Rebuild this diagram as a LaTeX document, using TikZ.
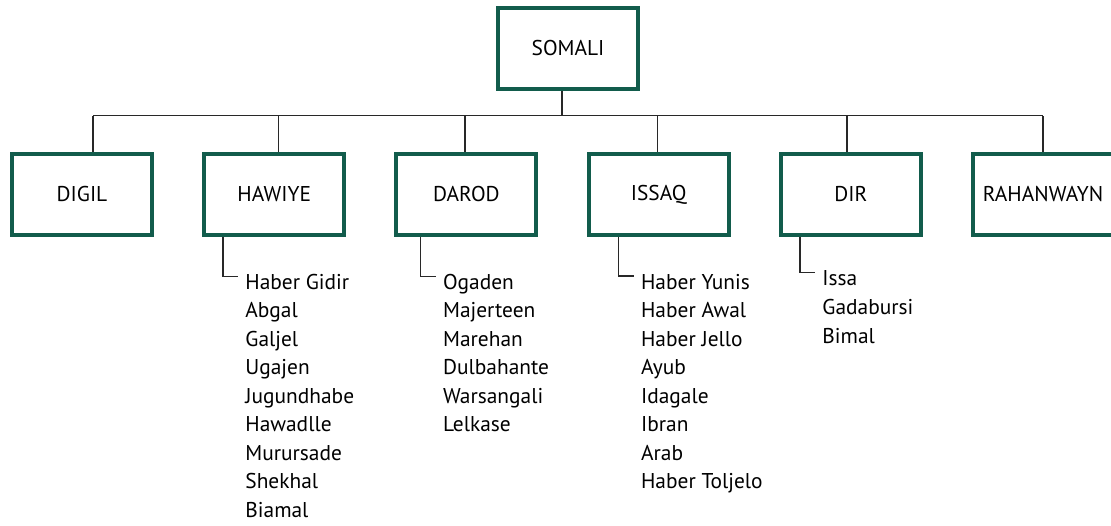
\documentclass[tikz,border=0pt]{standalone}
\usepackage{fontspec}
\setmainfont{PT Sans}
\usetikzlibrary{calc}

\definecolor{clangreen}{RGB}{18,92,76}
\definecolor{linkgray}{RGB}{40,40,40}

\tikzset{
  clan/.style={draw=clangreen, line width=2pt, fill=white, minimum width=70pt,
    minimum height=40.5pt, inner sep=0pt, font=\fontsize{10.7}{13}\selectfont},
  link/.style={draw=linkgray, line width=0.75pt},
  subclan/.style={anchor=base west, inner sep=0pt, font=\fontsize{10.7}{13}\selectfont},
}

\begin{document}
\begin{tikzpicture}[x=0.5pt, y=-0.5pt]
\useasboundingbox (0,0) rectangle (1111,525);

% top of the tree
\node[clan] (somali) at (568,48) {SOMALI};
\coordinate (bus) at (0,115.7);

% the six clan families
\foreach \clan/\label/\cx/\dx in {digil/DIGIL/82/5.5pt, hawiye/HAWIYE/274.2/2.2pt,
    darod/DAROD/466.4/-0.7pt, issaq/ISSAQ/658.6/-0.6pt, dir/DIR/850.8/-2pt,
    rahanwayn/RAHANWAYN/1043/0pt}
{
  \node[clan] (\clan) at (\cx,194.5) {\label};
  \draw[link] ($(\clan.north)+(\dx,0)$) -- ($(\clan.north |- bus)+(\dx,0)$);
}
\draw[link] ($(digil.north |- bus)+(5.5pt,0)$) -- (rahanwayn.north |- bus);
\draw[link] ($(somali.south)+(-3pt,0)$) -- ($(somali.south |- bus)+(-3pt,0)$);

% sub-clans under four of them
\foreach \clan/\lx/\ly/\gap/\names in {
  hawiye/245/289.3/28.5/{Haber Gidir,Abgal,Galjel,Ugajen,Jugundhabe,Hawadlle,Murursade,Shekhal,Biamal},
  darod/442.7/289.3/28.5/{Ogaden,Majerteen,Marehan,Dulbahante,Warsangali,Lelkase},
  issaq/640.7/289/28.5/{Haber Yunis,Haber Awal,Haber Jello,Ayub,Idagale,Ibran,Arab,Haber Toljelo},
  dir/822/285.5/29/{Issa,Gadabursi,Bimal}}
{
  \foreach \n [count=\i] in \names
    \node[subclan] (\clan\i) at (\lx,{\ly+\gap*(\i-1)}) {\n};
  \draw[link] ($(\clan.south -| \clan1.mid west)+(-11pt,0)$) |- ($(\clan1.mid west)+(-3.5pt,4pt)$);
}
\end{tikzpicture}
\end{document}
